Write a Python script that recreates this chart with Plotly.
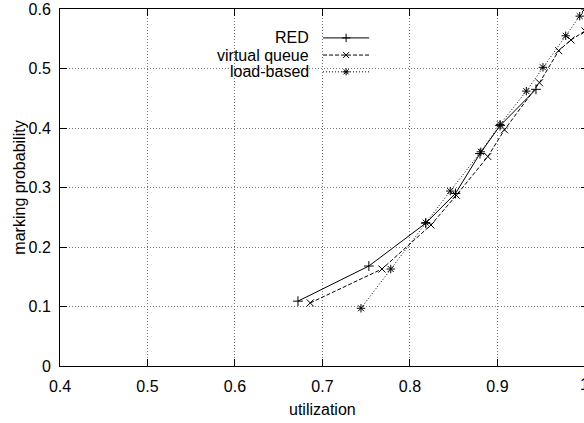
import plotly.graph_objects as go

# ---- data ----
red_x = [0.672, 0.753, 0.818, 0.852, 0.880, 0.903, 0.944]
red_y = [0.109, 0.168, 0.240, 0.290, 0.357, 0.404, 0.465]

vq_x = [0.686, 0.768, 0.824, 0.853, 0.889, 0.908, 0.948, 0.970, 0.984, 1.000]
vq_y = [0.106, 0.163, 0.237, 0.287, 0.352, 0.397, 0.476, 0.530, 0.548, 0.563]

lb_x = [0.744, 0.778, 0.818, 0.846, 0.881, 0.903, 0.933, 0.952, 0.978, 0.994, 1.000]
lb_y = [0.097, 0.163, 0.241, 0.294, 0.360, 0.406, 0.462, 0.502, 0.555, 0.588, 0.600]

series_names = ["RED", "virtual queue", "load-based"]

x_ticks = [0.4, 0.5, 0.6, 0.7, 0.8, 0.9]
x_tick_labels = ["0.4", "0.5", "0.6", "0.7", "0.8", "0.9"]
y_ticks = [0, 0.1, 0.2, 0.3, 0.4, 0.5, 0.6]
y_tick_labels = ["0", "0.1", "0.2", "0.3", "0.4", "0.5", "0.6"]

# ---- layout constants ----
W, H = 584, 423
ML, MT, MB = 60, 9, 57
FONT = "Liberation Sans"
FS = 16
X_MIN, X_MAX = 0.4, 0.9989

styles = [
    dict(dash="solid", symbol="cross-thin-open"),
    dict(dash="4px,2px", symbol="x-thin-open"),
    dict(dash="1px,2px", symbol="asterisk-open"),
]

fig = go.Figure()
for (xs, ys), name, st in zip([(red_x, red_y), (vq_x, vq_y), (lb_x, lb_y)], series_names, styles):
    fig.add_trace(go.Scatter(
        x=xs, y=ys, mode="lines+markers", name=name, showlegend=False,
        line=dict(color="black", width=1, dash=st["dash"]),
        marker=dict(symbol=st["symbol"], size=7, color="black",
                    line=dict(color="black", width=1)),
        cliponaxis=True,
    ))

# ---- gnuplot-style key (text left, sample right) ----
key_text_x = 0.479
key_line_x = [0.502, 0.546, 0.590]
key_rows = [0.919, 0.871, 0.824]
for name, st, ky in zip(series_names, styles, key_rows):
    fig.add_trace(go.Scatter(
        x=key_line_x, y=[ky] * 3, xaxis="x2", yaxis="y2",
        mode="lines", showlegend=False, hoverinfo="skip",
        line=dict(color="black", width=1, dash=st["dash"]),
    ))
    fig.add_trace(go.Scatter(
        x=[key_line_x[1]], y=[ky], xaxis="x2", yaxis="y2",
        mode="markers", showlegend=False, hoverinfo="skip",
        marker=dict(symbol=st["symbol"], size=6, color="black",
                    line=dict(color="black", width=1)),
    ))
    fig.add_annotation(x=key_text_x, y=ky, xref="paper", yref="paper",
                       text=name, showarrow=False, xanchor="right", yanchor="middle",
                       font=dict(family=FONT, size=FS, color="black"))

# white key box hiding the grid
fig.add_shape(type="rect", xref="paper", yref="paper",
              x0=0.235, x1=0.607, y0=0.793, y1=0.955,
              fillcolor="white", line=dict(width=0), layer="between")

# axis titles
fig.add_annotation(x=0.5, y=-0.123, xref="paper", yref="paper", text="utilization",
                   showarrow=False, xanchor="center", yanchor="middle",
                   font=dict(family=FONT, size=FS, color="black"))
fig.add_annotation(x=-0.078, y=0.5, xref="paper", yref="paper", text="marking probability",
                   showarrow=False, textangle=-90, xanchor="center", yanchor="middle",
                   font=dict(family=FONT, size=FS, color="black"))
# partially visible "1" tick label at the clipped right edge
fig.add_annotation(x=1.0019, y=0, xref="paper", yref="paper", text="1",
                   showarrow=False, xanchor="center", yanchor="top", yshift=-8,
                   font=dict(family=FONT, size=FS, color="black"))

axis_common = dict(
    showline=True, linecolor="black", linewidth=1,
    ticks="inside", ticklen=7, tickcolor="black", tickwidth=1,
    showgrid=True, gridcolor="#777777", griddash="1px,2px", gridwidth=1,
    zeroline=False, tickfont=dict(family=FONT, size=FS, color="black"),
)

fig.update_layout(
    width=W, height=H,
    margin=dict(l=ML, r=0, t=MT, b=MB, pad=0),
    paper_bgcolor="white", plot_bgcolor="white",
    showlegend=False,
    xaxis=dict(range=[X_MIN, X_MAX], tickvals=x_ticks, ticktext=x_tick_labels,
               mirror="ticks", ticklabelstandoff=6, **axis_common),
    yaxis=dict(range=[0, 0.6], tickvals=y_ticks, ticktext=y_tick_labels,
               mirror=False, ticklabelstandoff=5, **axis_common),
    xaxis2=dict(overlaying="x", range=[0, 1], visible=False),
    yaxis2=dict(overlaying="y", range=[0, 1], visible=False),
    yaxis3=dict(overlaying="y", side="right", range=[0, 0.6], tickvals=y_ticks,
                showticklabels=False, showgrid=False, showline=False, zeroline=False,
                ticks="inside", ticklen=3, tickcolor="black"),
    font=dict(family=FONT, size=FS, color="black"),
)
fig.add_trace(go.Scatter(x=[None], y=[None], yaxis="y3", showlegend=False, hoverinfo="skip"))

fig.write_html("out.html", config={"displayModeBar": False},
               post_script="document.body.style.margin='0';document.body.style.overflow='hidden';")
